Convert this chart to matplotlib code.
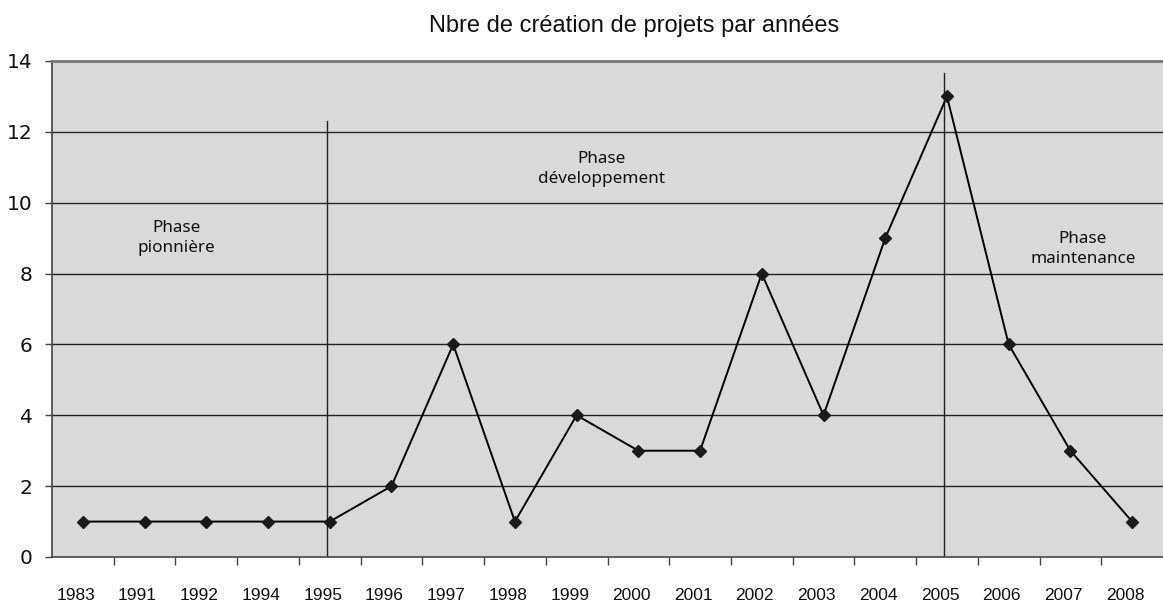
import matplotlib
matplotlib.use("Agg")
import matplotlib.pyplot as plt
import matplotlib.transforms as mtransforms
from matplotlib.ticker import FixedLocator, NullFormatter, FixedFormatter

years = ["1983", "1991", "1992", "1994", "1995", "1996", "1997", "1998", "1999",
         "2000", "2001", "2002", "2003", "2004", "2005", "2006", "2007", "2008"]
counts = [1, 1, 1, 1, 1, 2, 6, 1, 4, 3, 3, 8, 4, 9, 13, 6, 3, 1]
yticks = [0, 2, 4, 6, 8, 10, 12, 14]
title = "Nbre de création de projets par années"
phases = ["Phase\npionnière", "Phase\ndéveloppement", "Phase\nmaintenance"]

fig = plt.figure(figsize=(11.63, 6.05), dpi=100)
ax = fig.add_axes([52/1163, 1 - 557/605, (1163 - 52)/1163, (557 - 61)/605])
ax.set_facecolor("#d9d9d9")

x = list(range(len(years)))
ax.set_xlim(-0.5, len(years) - 0.5)
ax.set_ylim(0, 14)

for yv in yticks[1:-1]:
    ax.axhline(yv, color="#222222", lw=1.0, zorder=1)

# phase separators
ax.plot([3.95, 3.95], [0, 12.3], color="#222222", lw=1.0, zorder=2)
ax.plot([13.95, 13.95], [0, 13.65], color="#222222", lw=1.0, zorder=2)

ax.plot(x, counts, color="black", lw=1.4, marker="D", ms=6.5,
        mfc="#1a1a1a", mec="#1a1a1a", zorder=3)

ax.xaxis.set_major_locator(FixedLocator([i + 0.5 for i in range(len(years) - 1)]))
ax.xaxis.set_major_formatter(NullFormatter())
ax.xaxis.set_minor_locator(FixedLocator(x))
ax.xaxis.set_minor_formatter(FixedFormatter(years))
ax.tick_params(axis="x", which="major", direction="out", length=6, width=1, color="#444444")
ax.tick_params(axis="x", which="minor", length=0, pad=22)
shift = mtransforms.ScaledTranslation(-7/100, 0, fig.dpi_scale_trans)
for lab in ax.get_xticklabels(minor=True):
    lab.set_fontfamily(["Liberation Sans", "DejaVu Sans"])
    lab.set_fontsize(12.5)
    lab.set_color("#111111")
    lab.set_transform(lab.get_transform() + shift)

ax.set_yticks(yticks)
ax.tick_params(axis="y", direction="out", length=5, width=1, color="#444444",
               labelsize=14.5, pad=9)
for lab in ax.get_yticklabels():
    lab.set_fontfamily("DejaVu Sans")
    lab.set_color("#111111")

ax.spines["right"].set_visible(False)
ax.spines["top"].set_color("#777777")
ax.spines["top"].set_linewidth(2)
ax.spines["left"].set_color("#444444")
ax.spines["left"].set_linewidth(1.2)
ax.spines["bottom"].set_color("#444444")
ax.spines["bottom"].set_linewidth(1.2)

tfont = ["Noto Sans", "DejaVu Sans"]
ax.text(1.52, 9.0, phases[0], ha="center", va="center", fontsize=12.3,
        family=tfont, linespacing=1.3, color="#111111")
ax.text(8.4, 10.95, phases[1], ha="center", va="center", fontsize=12.3,
        family=tfont, linespacing=1.3, color="#111111")
ax.text(16.2, 8.7, phases[2], ha="center", va="center", fontsize=12.3,
        family=tfont, linespacing=1.3, color="#111111")

fig.text(634/1163, 1 - 26/605, title, ha="center", va="center", fontsize=17,
         family=["Liberation Sans", "DejaVu Sans"], color="#111111")

fig.savefig("out.png", dpi=100, facecolor="white")
